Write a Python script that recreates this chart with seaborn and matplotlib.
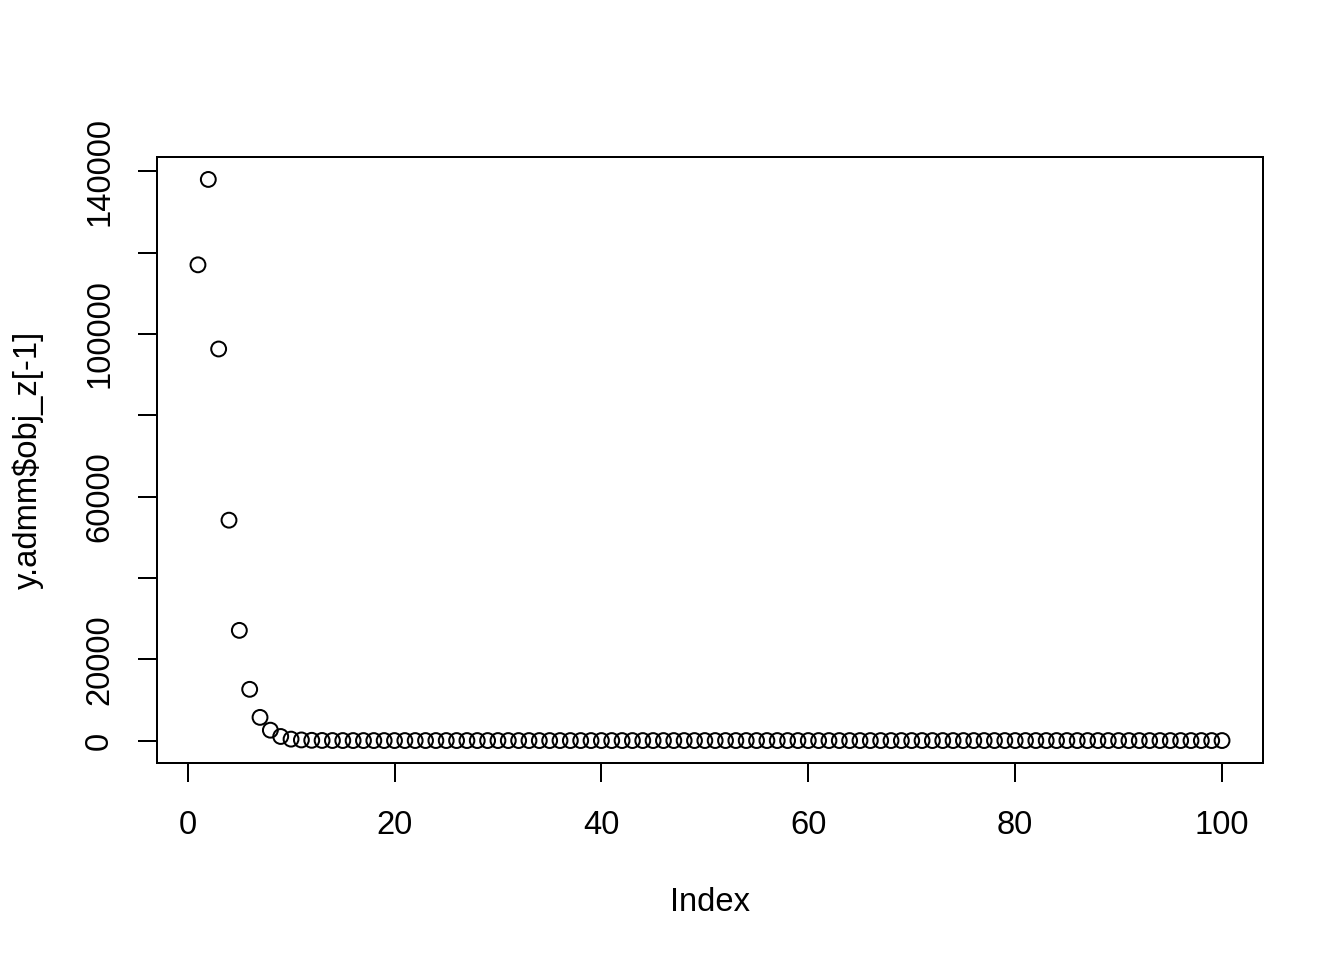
import numpy as np
import pandas as pd
import matplotlib
matplotlib.use("Agg")
import matplotlib.pyplot as plt
import seaborn as sns

# Objective values (index 1..100)
obj_z = [117000, 138000, 96300, 54200, 27100, 12600, 5700, 2550, 1000, 350,
         150, 60, 25, 10, 5, 2, 1, 0, 0, 0,
         0, 0, 0, 0, 0, 0, 0, 0, 0, 0,
         0, 0, 0, 0, 0, 0, 0, 0, 0, 0,
         0, 0, 0, 0, 0, 0, 0, 0, 0, 0,
         0, 0, 0, 0, 0, 0, 0, 0, 0, 0,
         0, 0, 0, 0, 0, 0, 0, 0, 0, 0,
         0, 0, 0, 0, 0, 0, 0, 0, 0, 0,
         0, 0, 0, 0, 0, 0, 0, 0, 0, 0,
         0, 0, 0, 0, 0, 0, 0, 0, 0, 0]
index = list(range(1, len(obj_z) + 1))

x_ticks = [0, 20, 40, 60, 80, 100]
y_ticks = [0, 20000, 40000, 60000, 80000, 100000, 120000, 140000]
y_tick_labels = ["0", "20000", "", "60000", "", "100000", "", "140000"]

df = pd.DataFrame({"Index": index, "obj": obj_z})

# Base R look: white background, no grid
sns.set_theme(style="white")
plt.rcParams["font.family"] = ["Liberation Sans", "DejaVu Sans"]

fig = plt.figure(figsize=(7, 5), dpi=192)
ax = fig.add_axes([157 / 1344, 1 - 763 / 960, (1263 - 157) / 1344, (763 - 157) / 960])

sns.scatterplot(data=df, x="Index", y="obj", ax=ax, marker="o", s=31,
                facecolors="none", edgecolor="black", linewidth=0.75)

# R default 4% axis expansion
ax.set_xlim(1 - 0.04 * 99, 100 + 0.04 * 99)
ax.set_ylim(-0.04 * 138000, 138000 * 1.04)

ax.set_xticks(x_ticks)
ax.set_xticklabels([str(t) for t in x_ticks])
ax.set_yticks(y_ticks)
ax.set_yticklabels(y_tick_labels, rotation=90, va="center")

ax.tick_params(axis="both", direction="out", length=7.2, width=0.75,
               color="black", labelsize=12.3, labelcolor="black",
               bottom=True, left=True)
ax.tick_params(axis="x", pad=10.5)
ax.tick_params(axis="y", pad=8.5)

for spine in ax.spines.values():
    spine.set_visible(True)
    spine.set_color("black")
    spine.set_linewidth(0.75)

ax.set_xlabel("Index", fontsize=12.3, color="black", labelpad=17)
ax.set_ylabel("y.admm$obj_z[-1]", fontsize=12.3, color="black", labelpad=15)

fig.savefig("out.png", dpi=192, facecolor="white")
